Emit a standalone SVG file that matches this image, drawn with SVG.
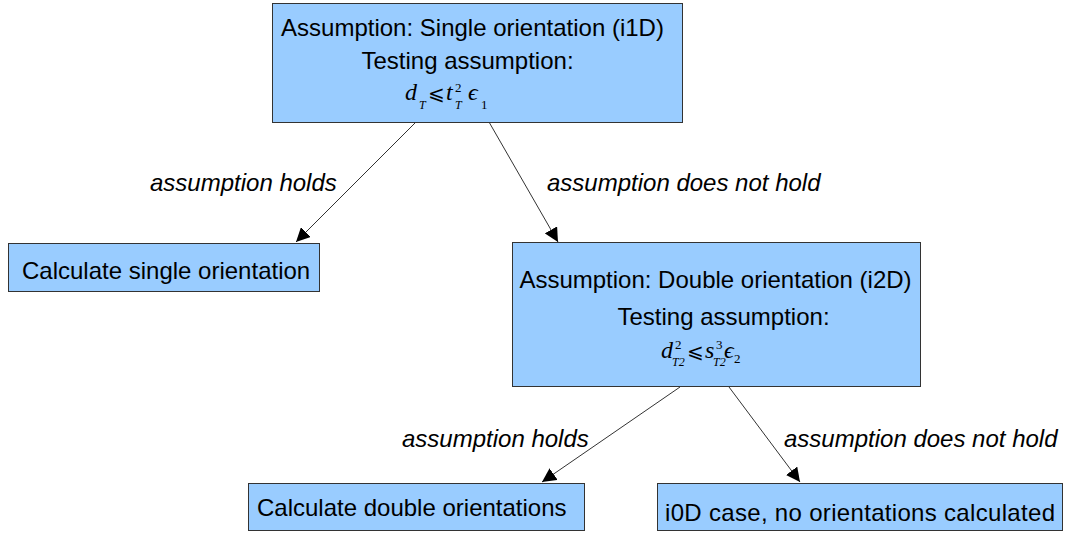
<svg xmlns="http://www.w3.org/2000/svg" width="1067" height="533" viewBox="0 0 1067 533">
  <style>
    .box { fill: #99ccff; stroke: #333333; stroke-width: 1; }
    .t { font-family: "Liberation Sans", Arial, sans-serif; font-size: 24px; fill: #000; }
    .lbl { font-family: "Liberation Sans", Arial, sans-serif; font-size: 24px; font-style: italic; fill: #000; }
    .m { font-family: "Liberation Serif", "Times New Roman", serif; font-style: italic; font-size: 24px; fill: #000; }
    .le { font-family: "DejaVu Serif", "Liberation Serif", serif; font-style: normal; font-size: 20px; }
    .sub { font-size: 12px; }
    .sup { font-size: 13px; font-style: normal; }
    .edge { stroke: #333333; stroke-width: 1; fill: none; marker-end: url(#arrow); }
  </style>
  <defs>
    <marker id="arrow" viewBox="0 0 10 10" refX="10" refY="5" markerWidth="14" markerHeight="14" markerUnits="userSpaceOnUse" orient="auto">
      <path d="M0,0 L10,5 L0,10 z" fill="#000"/>
    </marker>
  </defs>

  <g id="connectors">
    <line class="edge" x1="416" y1="122" x2="296" y2="242"/>
    <line class="edge" x1="489" y1="122" x2="558" y2="242"/>
    <line class="edge" x1="680" y1="387" x2="542" y2="482"/>
    <line class="edge" x1="729" y1="387" x2="800" y2="482"/>
    <text class="lbl" x="150" y="191">assumption holds</text>
    <text class="lbl" x="547" y="191">assumption does not hold</text>
    <text class="lbl" x="402" y="447">assumption holds</text>
    <text class="lbl" x="784" y="447">assumption does not hold</text>
  </g>

  <g id="single-assumption">
    <rect class="box" x="272.500" y="3.500" width="410" height="119"/>
    <text class="t" x="472.500" y="36" text-anchor="middle">Assumption: Single orientation (i1D)</text>
    <text class="t" x="467.500" y="69" text-anchor="middle">Testing assumption:</text>
    <text class="m">
      <tspan x="405" y="100">d</tspan>
      <tspan class="sub" x="419" y="109">T</tspan>
      <tspan class="le" x="428" y="100">⩽</tspan>
      <tspan x="446" y="100">t</tspan>
      <tspan class="sup" x="455" y="92">2</tspan>
      <tspan class="sub" x="455" y="109">T</tspan>
      <tspan x="468" y="100">ϵ</tspan>
      <tspan class="sup" x="481" y="109">1</tspan>
    </text>
  </g>

  <g id="single-result">
    <rect class="box" x="8.500" y="243.500" width="311" height="48"/>
    <text class="t" x="22" y="279">Calculate single orientation</text>
  </g>

  <g id="double-assumption">
    <rect class="box" x="512.500" y="242.500" width="408" height="144"/>
    <text class="t" x="715.500" y="288" text-anchor="middle">Assumption: Double orientation (i2D)</text>
    <text class="t" x="723.500" y="325" text-anchor="middle">Testing assumption:</text>
    <text class="m">
      <tspan x="661" y="358">d</tspan>
      <tspan class="sup" x="675" y="349">2</tspan>
      <tspan class="sub" x="672" y="366">T2</tspan>
      <tspan class="le" x="687" y="358">⩽</tspan>
      <tspan x="705" y="358">s</tspan>
      <tspan class="sup" x="716" y="349">3</tspan>
      <tspan class="sub" x="713" y="366">T2</tspan>
      <tspan x="724" y="358">ϵ</tspan>
      <tspan class="sup" x="734" y="363">2</tspan>
    </text>
  </g>

  <g id="double-result">
    <rect class="box" x="248.500" y="483.500" width="336" height="47"/>
    <text class="t" x="257" y="516">Calculate double orientations</text>
  </g>

  <g id="zero-result">
    <rect class="box" x="657.500" y="483.500" width="405" height="47"/>
    <text class="t" x="665" y="521" textLength="390" lengthAdjust="spacing">i0D case, no orientations calculated</text>
  </g>
</svg>
